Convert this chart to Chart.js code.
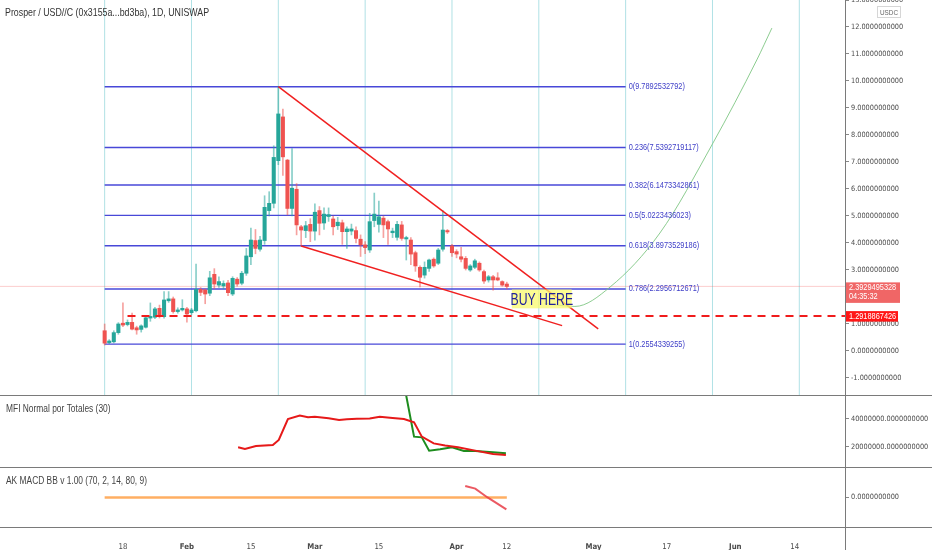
<!DOCTYPE html>
<html>
<head>
<meta charset="utf-8">
<script src="https://cdn.jsdelivr.net/npm/chart.js@4.4.0/dist/chart.umd.min.js"></script>
<style>
  body { margin: 0; background: #fff; }
  #wrap { position: relative; width: 932px; height: 550px; overflow: hidden; background: #fff; }
  canvas { position: absolute; left: 0; }
  .hl { position: absolute; left: 0; width: 932px; height: 1px; background: #7a7a7a; }
  .vl { position: absolute; left: 845px; top: 0; width: 1px; height: 550px; background: #7a7a7a; }
</style>
</head>
<body>
<div id="wrap">
  <canvas id="main" width="932" height="395" style="top:0"></canvas>
  <canvas id="mfi" width="932" height="71" style="top:396px"></canvas>
  <canvas id="macd" width="932" height="82" style="top:468px"></canvas>
  <div class="hl" style="top:395px"></div>
  <div class="hl" style="top:467px"></div>
  <div class="hl" style="top:527px"></div>
  <div class="vl"></div>
</div>
<script>
const FONT = "'DejaVu Sans Condensed', 'Liberation Sans', sans-serif"
const TEXT_FONT = "'Liberation Sans', sans-serif"
const AXIS_W = 87
const TXT = '#4a4a4a'
const TICK_SIZE = 7.3

// x values are day numbers, 0 = 1 Jan 2021
const xMin = -9.9
const xMax = 175

// daily candles, first one on day 13
const firstCandleDay = 13
const opens  = [0.75,0.31,0.34,0.68,1.03,0.98,1.06,0.86,0.80,0.88,1.22,1.25,1.58,1.27,1.86,1.93,1.46,1.52,1.56,1.42,
                1.49,2.28,2.26,2.14,2.84,2.44,2.41,2.52,2.11,2.66,2.51,2.88,3.49,4.09,3.77,4.09,5.20,5.47,7.05,8.67,
                7.07,5.28,5.99,4.60,4.46,4.69,4.44,5.20,4.74,4.98,4.89,4.64,4.75,4.42,4.44,4.46,4.14,3.93,3.74,4.83,
                4.69,4.92,4.79,4.38,4.21,4.67,4.15,4.11,3.64,3.10,2.81,3.06,3.40,3.25,3.77,4.46,3.89,3.68,3.49,3.43,
                3.00,3.10,3.25,2.94,2.63,2.75,2.71,2.57,2.48]
const highs  = [1.00,0.42,0.75,1.05,1.78,1.15,1.40,0.92,0.97,1.30,1.78,1.62,1.70,2.20,2.20,2.00,1.60,1.90,1.62,1.58,
                3.22,2.35,2.30,2.95,3.05,2.75,2.60,2.62,2.75,2.72,2.95,3.80,4.55,4.50,4.25,5.75,5.90,7.60,9.79,8.96,
                7.10,7.50,6.20,4.65,4.80,4.90,5.45,5.35,5.30,5.30,5.00,4.95,4.85,4.60,4.70,4.60,4.30,4.05,5.10,5.85,
                5.55,5.00,4.85,4.55,4.80,4.80,4.25,4.20,3.70,3.15,3.30,3.40,3.45,3.80,5.20,4.50,3.95,3.75,3.84,3.50,
                3.20,3.40,3.30,3.00,2.80,2.80,2.90,2.60,2.55]
const lows   = [0.22,0.27,0.30,0.62,0.90,0.93,0.78,0.62,0.70,0.85,1.10,1.20,1.22,1.22,1.80,1.40,1.40,1.48,1.07,1.35,
                1.45,2.05,1.75,2.05,2.30,2.35,2.30,2.05,2.05,2.40,2.45,2.80,3.20,3.60,3.70,3.95,5.00,5.30,6.90,6.50,
                5.04,5.00,4.30,3.88,4.20,4.05,4.10,4.30,4.50,4.80,4.30,4.50,3.95,3.80,4.30,4.00,3.50,3.60,3.65,4.60,
                4.40,4.20,3.95,4.20,4.10,4.10,3.37,3.20,2.95,2.37,2.70,2.95,3.10,3.20,3.70,4.35,3.50,3.45,3.30,3.00,
                2.95,3.05,2.95,2.50,2.55,2.25,2.60,2.40,2.30]
const closes = [0.29,0.37,0.68,1.00,0.96,1.06,0.81,0.78,0.93,1.23,1.28,1.56,1.27,1.89,1.93,1.46,1.52,1.58,1.37,1.52,
                2.28,2.17,2.11,2.71,2.48,2.57,2.50,2.16,2.69,2.48,2.88,3.52,4.11,3.80,4.11,5.32,5.47,7.17,8.78,7.19,
                5.28,6.03,4.67,4.48,4.64,4.44,5.14,4.73,5.07,5.05,4.60,4.77,4.42,4.52,4.52,4.17,3.93,3.83,4.79,5.07,
                4.97,4.67,4.52,4.44,4.69,4.17,4.20,3.59,3.15,2.73,3.10,3.37,3.15,3.74,4.48,4.41,3.64,3.59,3.40,3.06,
                3.15,3.34,3.00,2.59,2.75,2.63,2.63,2.44,2.39]

// fibonacci retracement drawing
const fibRatios = ['0', '0.236', '0.382', '0.5', '0.618', '0.786', '1']
const fibLevels = [9.7892532792, 7.5392719117, 6.1473342861, 5.0223436023, 3.8973529186, 2.2956712671, 0.2554339255]
const fibStartDay = 13
const fibEndDay = 127

// cycle lines
const cycleDays = [13, 32, 51, 70, 89, 108, 127, 146, 165]

// wedge
const upperTrendDays = [51, 121]
const upperTrendPrices = [9.79, 0.82]
const lowerTrendDays = [56, 113.1]
const lowerTrendPrices = [3.89, 0.94]

// horizontal levels
const stopLevel = 1.2918867426
const stopStartDay = 18
const lastPrice = 2.3929495328
const lastTime = '04:35:32'

// projected path
const curveDays = [109.3, 115.9, 123.6, 134.5, 146.1, 155.7, 159.0]
const curvePrices = [1.76, 1.65, 2.37, 4.37, 7.70, 10.78, 11.96]

// buy zone label
const buyBoxDays = [102.1, 115.2]
const buyBoxPrices = [2.28, 1.58]

// MFI pane
const mfiRedDays = [42.2, 43.7, 46.1, 49.8, 51.1, 53.1, 55.7, 57.5, 59.0, 62.0, 64.3, 66.0, 68.2, 71.0, 73.2, 76.0, 78.5, 80.7, 82.4, 85.0, 87.5, 90.3, 94.1, 98.0, 100.8]
const mfiRed = [19.8e6, 18.6e6, 20.7e6, 21.4e6, 25e6, 40e6, 42.4e6, 41.2e6, 41.6e6, 40.6e6, 39.3e6, 39.8e6, 40.2e6, 40.3e6, 41.6e6, 40.8e6, 40e6, 37.6e6, 27.4e6, 22.6e6, 21.0e6, 19.8e6, 17.4e6, 15e6, 14.3e6]
const mfiGreenDays = [78.5, 80.7, 82.4, 84.0, 86.4, 89.0, 91.6, 94.1, 98.0, 100.8]
const mfiGreen = [65e6, 27.4e6, 26.9e6, 17.4e6, 18.4e6, 19.8e6, 17.1e6, 17.1e6, 16.2e6, 15.5e6]

// AK MACD BB pane
const macdBaseDays = [13, 101]
const macdBase = [0, 0]
const macdRedDays = [91.9, 94.1, 96.7, 100.9]
const macdRed = [0.39, 0.30, 0.01, -0.40]

// time axis
const tickDays = [17, 31, 45, 59, 73, 90, 101, 120, 136, 151, 164]
const tickLabels = ['18', 'Feb', '15', 'Mar', '15', 'Apr', '12', 'May', '17', 'Jun', '14']
const monthTicks = ['Feb', 'Mar', 'Apr', 'May', 'Jun']

function fixAxis(scale) {
    scale.width = AXIS_W
    scale.paddingTop = 0
    scale.paddingBottom = 0
}

function priceAxis(min, max) {
    return {
        position: 'right',
        min: min,
        max: max,
        afterFit: fixAxis,
        border: { display: false },
        grid: { drawOnChartArea: false, tickLength: 4, tickColor: '#888' },
        ticks: {
            color: TXT,
            padding: 2,
            font: { family: FONT, size: TICK_SIZE },
            callback: v => Number(v).toFixed(10)
        }
    }
}

function line(days, values, color, width, order, extra) {
    let pts = []
    for (let i = 0; i < days.length; i++) pts.push({ x: days[i], y: values[i] })
    return Object.assign({
        type: 'line',
        data: pts,
        borderColor: color,
        borderWidth: width,
        pointRadius: 0,
        tension: 0,
        order: order
    }, extra || {})
}

// narrow text: squeeze a regular face sideways
function narrowText(ctx, text, x, y, size, align, squeeze) {
    ctx.save()
    ctx.font = size + 'px ' + TEXT_FONT
    ctx.textBaseline = 'middle'
    ctx.textAlign = align
    ctx.translate(x, y)
    ctx.scale(squeeze || 0.82, 1)
    ctx.fillText(text, 0, 0)
    ctx.restore()
}

// ---------- main pane ----------
let bodies = [], wicks = [], bodyColors = [], wickColors = []
for (let i = 0; i < opens.length; i++) {
    let day = firstCandleDay + i
    let up = closes[i] >= opens[i]
    bodies.push({ x: day, y: [opens[i], closes[i]] })
    wicks.push({ x: day, y: [lows[i], highs[i]] })
    bodyColors.push(up ? '#26a69a' : '#ef5350')
    wickColors.push(up ? 'rgba(38,166,154,0.55)' : 'rgba(239,83,80,0.55)')
}

let mainSets = []
for (let d of cycleDays) {
    mainSets.push(line([d, d], [-5, 20], 'rgba(150,215,220,0.75)', 1, 60))
}
for (let lv of fibLevels) {
    mainSets.push(line([fibStartDay, fibEndDay], [lv, lv], '#4848d8', 1.4, 50))
}
mainSets.push(line([xMin, xMax], [lastPrice, lastPrice], 'rgba(242,90,90,0.3)', 1, 45))
mainSets.push({
    type: 'bar', data: wicks, backgroundColor: wickColors, barThickness: 1,
    grouped: false, order: 40, borderWidth: 0
})
mainSets.push({
    type: 'bar', data: bodies, backgroundColor: bodyColors, barThickness: 3.4,
    grouped: false, order: 39, borderWidth: 0, minBarLength: 1
})
mainSets.push(line(upperTrendDays, upperTrendPrices, '#f02020', 1.5, 10))
mainSets.push(line(lowerTrendDays, lowerTrendPrices, '#f02020', 1.5, 10))
mainSets.push(line([stopStartDay, xMax], [stopLevel, stopLevel], '#f01c1c', 2, 9, { borderDash: [8, 6] }))
mainSets.push(line(curveDays, curvePrices, 'rgba(120,195,125,0.85)', 1, 8, { cubicInterpolationMode: 'monotone' }))

const mainOverlay = {
    id: 'mainOverlay',
    afterDraw(chart) {
        const ctx = chart.ctx
        const x = chart.scales.x, y = chart.scales.y
        ctx.save()

        // fib labels
        ctx.fillStyle = '#4040c8'
        fibLevels.forEach((lv, i) => {
            narrowText(ctx, fibRatios[i] + '(' + lv.toFixed(10) + ')', x.getPixelForValue(fibEndDay) + 3, y.getPixelForValue(lv), 9, 'left')
        })

        // buy zone
        let bx0 = x.getPixelForValue(buyBoxDays[0]), bx1 = x.getPixelForValue(buyBoxDays[1])
        let by0 = y.getPixelForValue(buyBoxPrices[0]), by1 = y.getPixelForValue(buyBoxPrices[1])
        ctx.fillStyle = 'rgba(250,250,110,0.75)'
        ctx.fillRect(bx0, by0, bx1 - bx0, by1 - by0)
        ctx.fillStyle = '#22229a'
        narrowText(ctx, 'BUY HERE', (bx0 + bx1) / 2, (by0 + by1) / 2 + 1, 17, 'center', 0.72)

        // title
        ctx.fillStyle = '#333'
        narrowText(ctx, 'Prosper / USD//C (0x3155a...bd3ba), 1D, UNISWAP', 5, 13, 10.5, 'left', 0.84)

        // axis labels
        let ax = chart.chartArea.right
        let py = y.getPixelForValue(lastPrice)
        ctx.fillStyle = '#f06666'
        ctx.fillRect(ax, py - 4, 55, 20.5)
        ctx.fillStyle = '#fff'
        narrowText(ctx, lastPrice.toFixed(10), ax + 4, py + 1, 9, 'left')
        narrowText(ctx, lastTime, ax + 4, py + 10.5, 9, 'left')

        let sy = y.getPixelForValue(stopLevel)
        ctx.fillStyle = '#ff1616'
        ctx.fillRect(ax, sy - 5, 53, 10.5)
        ctx.fillStyle = '#fff'
        narrowText(ctx, stopLevel.toFixed(10), ax + 4, sy + 0.5, 9, 'left')

        // currency tag
        ctx.strokeStyle = '#d6d6d6'
        ctx.lineWidth = 1
        ctx.strokeRect(877.5, 6.5, 23, 11)
        ctx.fillStyle = '#666'
        narrowText(ctx, 'USDC', 889, 12.5, 7.5, 'center', 0.85)
        ctx.restore()
    }
}

let mainAxis = priceAxis(-1.63, 13.0)
mainAxis.ticks.stepSize = 1
mainAxis.ticks.includeBounds = false

new Chart(document.getElementById('main'), {
    type: 'bar',
    data: { datasets: mainSets },
    options: {
        responsive: false,
        animation: false,
        layout: { padding: 0 },
        plugins: { legend: { display: false }, tooltip: { enabled: false } },
        scales: {
            x: { type: 'linear', min: xMin, max: xMax, offset: false, display: false, grid: { offset: false } },
            y: mainAxis
        }
    },
    plugins: [mainOverlay]
})

// ---------- pane titles ----------
function paneTitle(text) {
    return {
        id: 'paneTitle',
        afterDraw(chart) {
            const ctx = chart.ctx
            ctx.fillStyle = '#444'
            narrowText(ctx, text, 6, 13, 10, 'left', 0.84)
        }
    }
}

// ---------- MFI pane ----------
let mfiAxis = priceAxis(5.71e6, 56.43e6)
mfiAxis.afterBuildTicks = s => { s.ticks = [{ value: 20e6 }, { value: 40e6 }] }

new Chart(document.getElementById('mfi'), {
    type: 'line',
    data: {
        datasets: [
            line(mfiGreenDays, mfiGreen, '#1d8c1d', 2, 2),
            line(mfiRedDays, mfiRed, '#e61919', 2, 1)
        ]
    },
    options: {
        responsive: false,
        animation: false,
        layout: { padding: 0 },
        plugins: { legend: { display: false }, tooltip: { enabled: false } },
        scales: {
            x: { type: 'linear', min: xMin, max: xMax, display: false },
            y: mfiAxis
        }
    },
    plugins: [paneTitle('MFI Normal por Totales (30)')]
})

// ---------- MACD pane + time axis ----------
let macdAxis = priceAxis(-1, 1)
macdAxis.afterBuildTicks = s => { s.ticks = [{ value: 0 }] }

new Chart(document.getElementById('macd'), {
    type: 'line',
    data: {
        datasets: [
            line(macdBaseDays, macdBase, 'rgba(255,160,70,0.85)', 2.5, 2),
            line(macdRedDays, macdRed, 'rgba(232,60,70,0.85)', 2, 1)
        ]
    },
    options: {
        responsive: false,
        animation: false,
        layout: { padding: 0 },
        plugins: { legend: { display: false }, tooltip: { enabled: false } },
        scales: {
            x: {
                type: 'linear', min: xMin, max: xMax,
                border: { display: false },
                grid: { display: false },
                afterBuildTicks: s => { s.ticks = tickDays.map(d => ({ value: d })) },
                afterFit: s => { s.height = 23; s.paddingLeft = 0; s.paddingRight = 0 },
                ticks: {
                    maxRotation: 0,
                    autoSkip: false,
                    padding: 7,
                    color: TXT,
                    font: c => ({ family: FONT, size: 7.8, weight: monthTicks.includes(tickLabels[c.index]) ? 'bold' : 'normal' }),
                    callback: (v, i) => tickLabels[i]
                }
            },
            y: macdAxis
        }
    },
    plugins: [paneTitle('AK MACD BB v 1.00 (70, 2, 14, 80, 9)')]
})
</script>
</body>
</html>
